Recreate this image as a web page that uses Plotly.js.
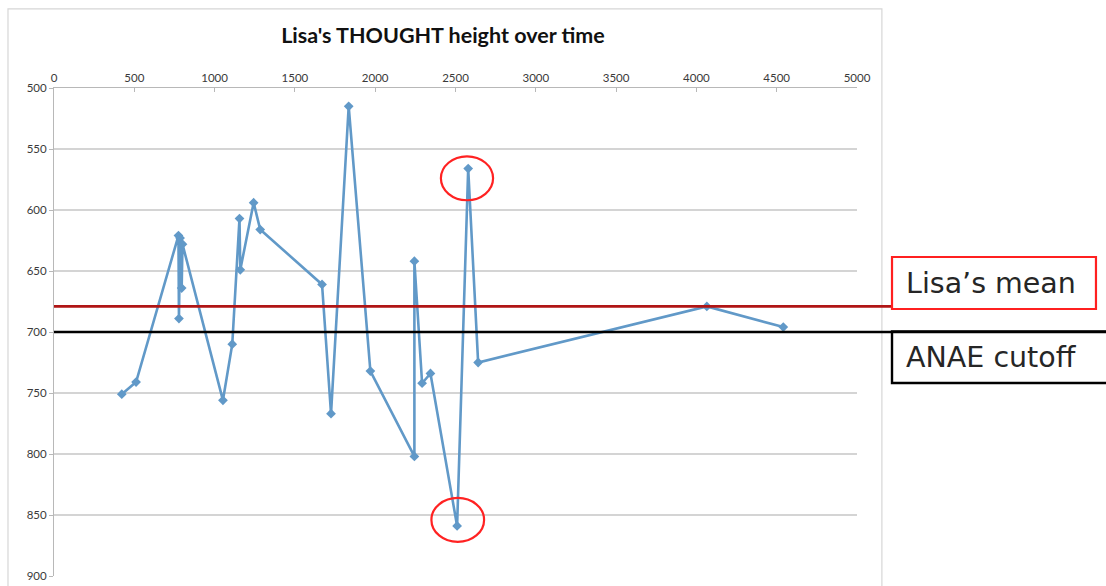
<!DOCTYPE html>
<html>
<head>
<meta charset="utf-8">
<script src="https://cdn.plot.ly/plotly-3.0.1.min.js"></script>
<style>
  html, body { margin: 0; padding: 0; background: #ffffff; }
  #chart { width: 1106px; height: 586px; }
</style>
</head>
<body>
<div id="chart"></div>
<script>
// ---- data ----
const times = [422, 511, 775, 778, 785, 795, 800, 1052, 1110, 1155, 1160, 1243, 1284, 1669, 1725, 1835, 1970, 2244, 2244, 2292, 2344, 2510, 2579, 2641, 4065, 4541];
const heights = [751, 741, 621, 689, 623, 664, 628, 756, 710, 607, 649, 594, 616, 661, 767, 515, 732, 802, 642, 742, 734, 859, 566, 725, 679, 696];
const meanValue = 679;
const cutoffValue = 700;
const highlightIdx = [22, 21];
const xTicks = [0, 500, 1000, 1500, 2000, 2500, 3000, 3500, 4000, 4500, 5000];
const yTicks = [500, 550, 600, 650, 700, 750, 800, 850, 900];
const titleText = "Lisa's THOUGHT height over time";
const meanLabel = "Lisa\u2019s mean";
const cutoffLabel = "ANAE cutoff";

const trace = {
  x: times, y: heights, type: 'scatter', mode: 'lines+markers',
  line: { color: '#6199c8', width: 2.6 },
  marker: { symbol: 'diamond', size: 7.5, color: '#6199c8' },
  hoverinfo: 'x+y', showlegend: false
};

const circleShapes = highlightIdx.map(i => ({
  type: 'circle', xref: 'x', yref: 'y',
  x0: times[i] - 170, x1: times[i] + 155,
  y0: heights[i] - 10, y1: heights[i] + 26,
  line: { color: '#ff2222', width: 2.2 }
}));
circleShapes[1].y0 = heights[21] - 23; circleShapes[1].y1 = heights[21] + 13;
circleShapes[1].x0 = times[21] - 160; circleShapes[1].x1 = times[21] + 168;

const tickFont = { family: 'Lato, Carlito, sans-serif', size: 11.5, color: '#3a3a3a' };

const layout = {
  width: 1106, height: 586,
  margin: { l: 54, r: 249, t: 88, b: 10 },
  paper_bgcolor: '#ffffff', plot_bgcolor: '#ffffff',
  font: { family: 'Lato, Carlito, sans-serif', color: '#444444', size: 11 },
  xaxis: {
    side: 'top', range: [0, 5000], tickvals: xTicks, ticktext: xTicks.map(String),
    showgrid: false, zeroline: false, showline: true, linecolor: '#b8b8b8', linewidth: 1,
    ticks: 'inside', ticklen: 4, tickcolor: '#b8b8b8', tickfont: tickFont
  },
  yaxis: {
    range: [900, 500], tickvals: yTicks, ticktext: yTicks.map(String),
    showgrid: true, gridcolor: '#d4d4d4', gridwidth: 1.4, zeroline: false,
    showline: true, linecolor: '#b8b8b8', linewidth: 1,
    ticks: 'outside', ticklen: 4, tickcolor: '#b8b8b8', tickfont: tickFont
  },
  title: {
    text: '<b>' + titleText + '</b>', x: 0.4844, xref: 'paper', xanchor: 'center',
    y: 1 - 35 / 586, yref: 'container', yanchor: 'middle',
    font: { family: 'Lato, Carlito, sans-serif', size: 21.5, color: '#111111' }
  },
  shapes: [
    { type: 'rect', xref: 'paper', yref: 'paper', x0: -0.0573, x1: 1.031, y0: -0.2, y1: 1.162,
      line: { color: '#d6d6d6', width: 1.2 }, layer: 'below' },
    { type: 'line', xref: 'paper', yref: 'y', x0: 0, x1: 1.044, y0: meanValue, y1: meanValue,
      line: { color: '#b01515', width: 2.6 } },
    { type: 'line', xref: 'paper', yref: 'y', x0: 0, x1: 1.32, y0: cutoffValue, y1: cutoffValue,
      line: { color: '#000000', width: 2.6 } },
    { type: 'rect', xref: 'paper', yref: 'paper', x0: 1.0436, x1: 1.2976, y0: 0.5471, y1: 0.6537,
      line: { color: '#ff2020', width: 2.2 } },
    { type: 'rect', xref: 'paper', yref: 'paper', x0: 1.0436, x1: 1.36, y0: 0.3955, y1: 0.501,
      line: { color: '#000000', width: 2.4 } }
  ].concat(circleShapes),
  annotations: [
    { text: meanLabel, xref: 'paper', yref: 'paper', x: 1.059, y: 0.6, xanchor: 'left', yanchor: 'middle',
      showarrow: false, font: { family: '"DejaVu Sans", sans-serif', size: 28.5, color: '#262626' } },
    { text: cutoffLabel, xref: 'paper', yref: 'paper', x: 1.059, y: 0.447, xanchor: 'left', yanchor: 'middle',
      showarrow: false, font: { family: '"DejaVu Sans", sans-serif', size: 28.5, color: '#262626' } }
  ]
};

Plotly.newPlot('chart', [trace], layout, { staticPlot: true, displayModeBar: false });
</script>
</body>
</html>
